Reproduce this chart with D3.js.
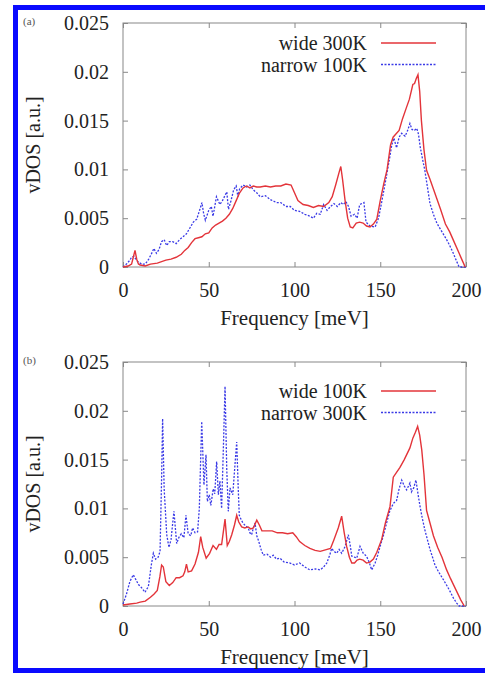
<!DOCTYPE html>
<html>
<head>
<meta charset="utf-8">
<script src="https://cdn.jsdelivr.net/npm/d3@7"></script>
<style>
  html, body { margin: 0; padding: 0; background: #fff; overflow: hidden; }
  svg { display: block; }
  svg text { font-family: "Liberation Serif", "Times New Roman", "DejaVu Serif", serif !important; }
</style>
</head>
<body>
<div id="chart"></div>
<script>
// data: [frequency meV, vDOS]
var freqTicks = [0, 50, 100, 150, 200];
var vdosTicks = [0, 0.005, 0.01, 0.015, 0.02, 0.025];

var wide300K = [[0,0],[3,0.0001],[5,0.0003],[6,0.0010],[7,0.0017],[8,0.0008],[9,0.0003],[10,0.0002],[13,0.0001],[16,0.0003],[20,0.0004],[25,0.0007],[28,0.0008],[31,0.0010],[34,0.0013],[36,0.0017],[38,0.0020],[40,0.0025],[42,0.0029],[44,0.0030],[46,0.0031],[48,0.0034],[50,0.0035],[52,0.0040],[54,0.0043],[56,0.0045],[58,0.0047],[60,0.0050],[62,0.0054],[64,0.0060],[66,0.0068],[68,0.0076],[70,0.0081],[72,0.0083],[74,0.0081],[76,0.0083],[78,0.0082],[80,0.0082],[83,0.0083],[86,0.0082],[89,0.0083],[92,0.0083],[95,0.0085],[98,0.0084],[100,0.0076],[102,0.0068],[105,0.0064],[108,0.0063],[111,0.0061],[114,0.0063],[117,0.0062],[120,0.0066],[122,0.0072],[124,0.0084],[126,0.0097],[127,0.0103],[128,0.0090],[129.5,0.0068],[131,0.0050],[132.5,0.0041],[134,0.0040],[136,0.0045],[138,0.0046],[140,0.0045],[142,0.0042],[144,0.0041],[146,0.0044],[148,0.0049],[150,0.0068],[152,0.0085],[154,0.0100],[156,0.0125],[157.5,0.0133],[159,0.0136],[161,0.0140],[163,0.0152],[165,0.0162],[167,0.0172],[169,0.0187],[170,0.0188],[171,0.0193],[172,0.0197],[173,0.0180],[174,0.0150],[175.5,0.0120],[177,0.0099],[179,0.0090],[181,0.0080],[183,0.0070],[185,0.0060],[188,0.0044],[190.5,0.0036],[193,0.0026],[196,0.0014],[198,0.0006],[199.5,0]];

var narrow100K = [[0,0],[2,0.0003],[4,0.0007],[5,0.0010],[6.4,0.0011],[7.5,0.0008],[9,0.0005],[11,0.0003],[13,0.0003],[15,0.0008],[17,0.0015],[18,0.0019],[19.5,0.0014],[21,0.0018],[22.5,0.0026],[24,0.0028],[25.5,0.0022],[27,0.0026],[29,0.0026],[31,0.0024],[33,0.0028],[35,0.0031],[37,0.0034],[39,0.0040],[41,0.0046],[43,0.0049],[45,0.0060],[46,0.0066],[47,0.0055],[48,0.0048],[50,0.0058],[51.5,0.0062],[52.5,0.0052],[54.5,0.0072],[56.5,0.0064],[58,0.0068],[60.5,0.0077],[61.5,0.0059],[63,0.0068],[64.5,0.0079],[66,0.0083],[67,0.0072],[68,0.0080],[70,0.0084],[72,0.0082],[74,0.0084],[76,0.0079],[78,0.0076],[80,0.0072],[83,0.0073],[86,0.0069],[89.5,0.0066],[92,0.0066],[95,0.0062],[97.5,0.0062],[100,0.0058],[103,0.0057],[106,0.0054],[109,0.0052],[111,0.0050],[113,0.0055],[115,0.0054],[117,0.0064],[119,0.0058],[121,0.0062],[123,0.0065],[125,0.0062],[127,0.0066],[128.5,0.0064],[130,0.0067],[131.5,0.0062],[133,0.0052],[135,0.0054],[136.5,0.0050],[138,0.0064],[140.5,0.0066],[141.7,0.0046],[144,0.0042],[147,0.0041],[149,0.0050],[151,0.0068],[153.5,0.0092],[155.5,0.0112],[156.7,0.0125],[158,0.0132],[159.5,0.0122],[161,0.0133],[162.5,0.0137],[164.5,0.0134],[166,0.0140],[167.3,0.0147],[168.5,0.0141],[170,0.0140],[171.3,0.0142],[172.3,0.0136],[173.3,0.0123],[174.5,0.0112],[176,0.0099],[177.5,0.0082],[179,0.0065],[181,0.0054],[183,0.0045],[186,0.0036],[188.7,0.0028],[190.5,0.0022],[192.6,0.0014],[194.5,0.0006],[196,0],[200,0]];

var wide100K = [[0,0.0001],[4,0.0002],[8,0.0003],[10,0.0004],[13,0.0005],[16,0.0009],[18,0.0012],[20,0.0016],[21.5,0.0030],[22.5,0.0042],[23.5,0.0040],[25,0.0025],[27,0.0021],[29,0.0024],[31,0.0029],[33,0.0029],[35,0.0031],[36,0.0035],[37,0.0043],[38,0.0035],[40,0.0036],[42,0.0043],[44,0.0055],[45.3,0.0071],[46.5,0.0060],[48.5,0.0049],[50.5,0.0054],[52.5,0.0062],[54.5,0.0058],[56,0.0063],[57.5,0.0063],[59.5,0.0089],[60.8,0.0062],[62,0.0066],[63.4,0.0073],[65,0.0083],[66.3,0.0093],[67.5,0.0086],[69.2,0.0081],[71,0.0080],[73,0.0081],[74.5,0.0079],[76,0.0080],[78,0.0088],[79.5,0.0083],[81,0.0077],[84,0.0077],[87,0.0077],[90,0.0075],[93,0.0075],[96,0.0074],[99,0.0075],[101,0.0071],[103,0.0066],[106,0.0062],[109,0.0059],[112,0.0057],[115,0.0056],[117,0.0057],[119,0.0058],[121,0.0059],[123,0.0068],[125.5,0.0080],[127.5,0.0092],[129,0.0075],[130.4,0.0061],[132,0.0050],[133.4,0.0044],[135,0.0044],[136.5,0.0047],[138,0.0048],[140,0.0047],[142,0.0044],[144,0.0045],[146,0.0048],[148,0.0055],[150.8,0.0068],[153,0.0085],[155.7,0.0102],[157.6,0.0132],[159.5,0.0137],[161.5,0.0142],[164,0.0150],[167.3,0.0162],[169,0.0172],[170.5,0.0178],[171.8,0.0184],[173,0.0175],[174.2,0.0160],[175.5,0.0135],[177,0.0098],[179,0.0085],[181,0.0072],[183.5,0.0060],[186,0.0050],[188.7,0.0037],[191,0.0028],[194,0.0017],[197,0.0006],[199,0]];

var narrow300K = [[0,0.0002],[2,0.0012],[4,0.0025],[6,0.0032],[7.5,0.0027],[9,0.0022],[10.7,0.0019],[12,0.0016],[12.8,0.0014],[14.8,0.0020],[16.5,0.0042],[17.7,0.0054],[19,0.0048],[20.5,0.0050],[21.6,0.0056],[22.5,0.0130],[23.1,0.0192],[24,0.0120],[25.5,0.0073],[26.8,0.0060],[28,0.0068],[29.7,0.0097],[31.3,0.0064],[32.5,0.0070],[34,0.0074],[35.5,0.0070],[36.7,0.0093],[38,0.0074],[39.5,0.0072],[40.6,0.0080],[42,0.0075],[43.5,0.0076],[44.5,0.0100],[45.9,0.0189],[47.2,0.0124],[48.4,0.0155],[49.2,0.0107],[50.3,0.0114],[51.2,0.0103],[52.6,0.0120],[53.5,0.0115],[54.6,0.0148],[55.6,0.0114],[56.5,0.0128],[57.5,0.0100],[58.5,0.0160],[59.5,0.0225],[60.5,0.0140],[61.4,0.0097],[62.4,0.0121],[64,0.0114],[65.3,0.0145],[66.3,0.0168],[67.2,0.0120],[67.8,0.0093],[69,0.0088],[70,0.0085],[71.5,0.0082],[73,0.0080],[74,0.0075],[75,0.0073],[76,0.0080],[77,0.0085],[78,0.0072],[79,0.0067],[80.5,0.0058],[81.8,0.0052],[84,0.0053],[86,0.0050],[87.6,0.0052],[89.5,0.0048],[91.5,0.0049],[94,0.0045],[97.4,0.0044],[100,0.0042],[103,0.0044],[106,0.0040],[109,0.0037],[112,0.0038],[115,0.0037],[117,0.0040],[118.8,0.0044],[120.5,0.0052],[121.7,0.0059],[123,0.0056],[124.6,0.0054],[126,0.0058],[127.5,0.0054],[129.5,0.0061],[131.4,0.0073],[132.5,0.0062],[133.4,0.0051],[135,0.0050],[136.3,0.0049],[138.2,0.0061],[140.1,0.0054],[142,0.0051],[143.5,0.0045],[145,0.0037],[147,0.0044],[148.5,0.0052],[149.9,0.0061],[151.8,0.0072],[153.7,0.0085],[155.5,0.0097],[157.6,0.0105],[159.5,0.0108],[161,0.0120],[162.5,0.0129],[164,0.0123],[165.4,0.0119],[167.3,0.0126],[168.2,0.0117],[169.5,0.0121],[170.8,0.0129],[172,0.0115],[173.2,0.0102],[174.5,0.0090],[176,0.0078],[177.5,0.0068],[179,0.0058],[180.5,0.0050],[181.9,0.0042],[184,0.0035],[186.8,0.0027],[188.8,0.0021],[190.7,0.0015],[192.7,0.0008],[194.6,0.0003],[196,0],[200,0]];

var width = 485, height = 673;
var left = 123, right = 466;
var serif = '"Liberation Serif", "Times New Roman", "DejaVu Serif", serif';

var panels = [
  {tag: '(a)', top: 23, bottom: 267, legendY: 43,
   solid: wide300K, dotted: narrow100K, names: ['wide 300K', 'narrow 100K']},
  {tag: '(b)', top: 362, bottom: 606, legendY: 391,
   solid: wide100K, dotted: narrow300K, names: ['wide 100K', 'narrow 300K']}
];

var svg = d3.select('#chart').append('svg')
    .attr('width', width)
    .attr('height', height)
    .attr('font-family', serif);

svg.append('rect').attr('width', width).attr('height', height).attr('fill', '#fff');

// blue frame of the figure (no right edge, the image is cropped there)
svg.append('rect').attr('x', 13).attr('y', 5).attr('width', width - 13).attr('height', 5).attr('fill', '#0a0aff');
svg.append('rect').attr('x', 13).attr('y', 5).attr('width', 5).attr('height', height - 5).attr('fill', '#0a0aff');
svg.append('rect').attr('x', 13).attr('y', 668).attr('width', width - 13).attr('height', 5).attr('fill', '#0a0aff');

var x = d3.scaleLinear().domain([0, 200]).range([left, right]);

panels.forEach(function(p) {
  var y = d3.scaleLinear().domain([0, 0.025]).range([p.bottom, p.top]);
  var g = svg.append('g');
  var fmt = function(d) { return String(+d.toFixed(3)); };

  var axes = [
    g.append('g').attr('transform', 'translate(0,' + p.bottom + ')')
      .call(d3.axisBottom(x).tickValues(freqTicks).tickSizeInner(-5).tickSizeOuter(0).tickPadding(16)),
    g.append('g').attr('transform', 'translate(' + left + ',0)')
      .call(d3.axisLeft(y).tickValues(vdosTicks).tickFormat(fmt).tickSizeInner(-5).tickSizeOuter(0).tickPadding(14)),
    g.append('g').attr('transform', 'translate(0,' + p.top + ')')
      .call(d3.axisTop(x).tickValues(freqTicks).tickFormat('').tickSizeInner(-5).tickSizeOuter(0)),
    g.append('g').attr('transform', 'translate(' + right + ',0)')
      .call(d3.axisRight(y).tickValues(vdosTicks).tickFormat('').tickSizeInner(-5).tickSizeOuter(0))
  ];
  axes.forEach(function(a) {
    a.attr('font-family', serif).attr('font-size', 20);
    a.select('.domain').remove();
    a.selectAll('line').attr('stroke', '#888');
    a.selectAll('text').attr('fill', '#222');
  });

  g.append('rect')
    .attr('x', left).attr('y', p.top)
    .attr('width', right - left).attr('height', p.bottom - p.top)
    .attr('fill', 'none').attr('stroke', '#888').attr('stroke-width', 1);

  var line = d3.line()
    .x(function(d) { return x(d[0]); })
    .y(function(d) { return y(d[1]); });

  g.append('path').datum(p.dotted)
    .attr('d', line).attr('fill', 'none')
    .attr('stroke', '#3a3ae6').attr('stroke-width', 1.3)
    .attr('stroke-dasharray', '2,1.5');

  g.append('path').datum(p.solid)
    .attr('d', line).attr('fill', 'none')
    .attr('stroke', '#e3343a').attr('stroke-width', 1.4);

  // legend
  [0, 1].forEach(function(i) {
    var ly = p.legendY + i * 21.5;
    g.append('text').attr('x', 367).attr('y', ly + 7)
      .attr('text-anchor', 'end').attr('font-size', 20).attr('fill', '#222')
      .text(p.names[i]);
    g.append('line').attr('x1', 381).attr('x2', 436).attr('y1', ly).attr('y2', ly)
      .attr('stroke', i === 0 ? '#e3343a' : '#3a3ae6')
      .attr('stroke-width', i === 0 ? 1.4 : 1.3)
      .attr('stroke-dasharray', i === 0 ? null : '2,1.5');
  });

  // axis titles
  g.append('text')
    .attr('transform', 'translate(40,' + ((p.top + p.bottom) / 2) + ') rotate(-90)')
    .attr('text-anchor', 'middle').attr('font-size', 20).attr('fill', '#222')
    .text('vDOS [a.u.]');
  g.append('text')
    .attr('x', (left + right) / 2).attr('y', p.bottom + 58)
    .attr('text-anchor', 'middle').attr('font-size', 21).attr('fill', '#222')
    .text('Frequency [meV]');

  g.append('text')
    .attr('x', 23).attr('y', p.top + 2)
    .attr('font-size', 11).attr('fill', '#555')
    .text(p.tag);
});
</script>
</body>
</html>
